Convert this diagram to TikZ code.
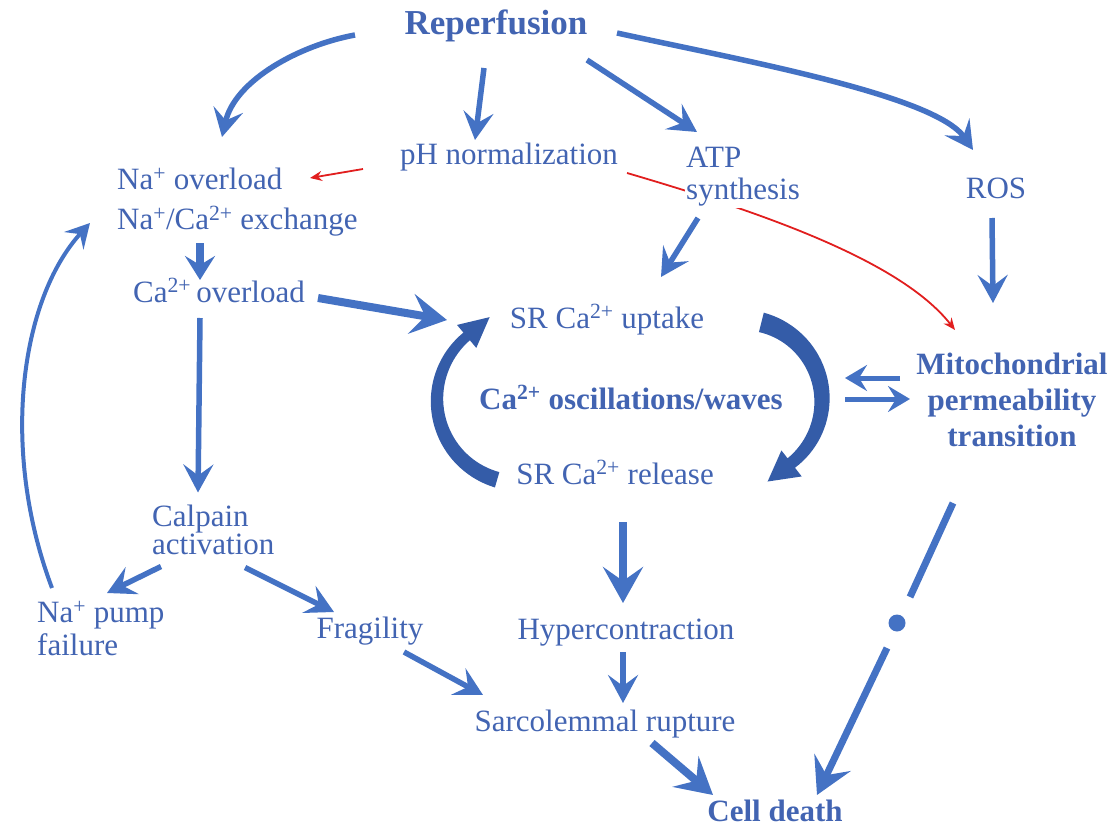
\documentclass[tikz,border=0pt]{standalone}
\usepackage{fontspec}
\setmainfont{Liberation Serif}
\usetikzlibrary{arrows.meta,calc,backgrounds}
\definecolor{txt}{RGB}{66,100,178}
\definecolor{arr}{RGB}{68,114,196}
\definecolor{cyc}{RGB}{52,92,168}
\definecolor{redl}{RGB}{225,30,30}
\tikzset{
  lbl/.style={text=txt,font=\fontsize{31}{36}\selectfont,inner sep=1pt,fill=white},
  blbl/.style={lbl,font=\fontsize{31}{36}\selectfont\bfseries},
  bar/.style={draw=arr,line width=5.5pt,-{Stealth[length=28pt,width=30pt,inset=11pt]}},
  fatbar/.style={draw=arr,line width=8pt,-{Stealth[length=36pt,width=40pt,inset=14pt]}},
  thinbar/.style={draw=arr,line width=4pt,-{Stealth[length=24pt,width=26pt,inset=9pt]}},
  xbar/.style={draw=arr,line width=5pt,-{Stealth[length=22pt,width=26pt,inset=8pt]}},
  redbar/.style={draw=redl,line width=1.8pt,-{Stealth[length=12pt,width=10pt,inset=4pt]}},
}
\begin{document}
\begin{tikzpicture}[x=1pt,y=-1pt]
\useasboundingbox (0,0) rectangle (1116,829);
% nodes
\node[blbl,font=\fontsize{35}{40}\selectfont\bfseries,anchor=base] (rep) at (496,35) {Reperfusion};
\node[lbl,anchor=base] (ph) at (509,165) {pH normalization};
\node[lbl,align=left,anchor=west,font=\fontsize{31}{32}\selectfont] (atp) at (685,177) {ATP\\synthesis};
\node[lbl,anchor=base] (ros) at (996,199) {ROS};
\node[lbl,align=left,anchor=west,font=\fontsize{31}{40}\selectfont] (na) at (116,202) {Na\textsuperscript{+} overload\\Na\textsuperscript{+}/Ca\textsuperscript{2+} exchange};
\node[lbl,anchor=base] (ca) at (219,302) {Ca\textsuperscript{2+}\,overload};
\node[lbl,anchor=base] (up) at (607,328) {SR Ca\textsuperscript{2+} uptake};
\node[blbl,anchor=base] (osc) at (631,409) {Ca\textsuperscript{2+} oscillations/waves};
\node[lbl,anchor=base] (rel) at (615,484) {SR Ca\textsuperscript{2+} release};
\node[blbl,align=center] (mpt) at (1012,400) {Mitochondrial\\permeability\\transition};
\node[lbl,align=left,anchor=west,font=\fontsize{31}{28}\selectfont] (calp) at (151,529.5) {Calpain\\activation};
\node[lbl,align=left,anchor=west,font=\fontsize{31}{33}\selectfont] (pump) at (36,629) {Na\textsuperscript{+} pump\\failure};
\node[lbl,anchor=base] (frag) at (370,638) {Fragility};
\node[lbl,anchor=base] (hyp) at (626,639) {Hypercontraction};
\node[lbl,anchor=base] (sarc) at (605,731) {Sarcolemmal rupture};
\node[blbl,anchor=base,inner sep=0pt,fill=none] (death) at (775,821) {Cell death};
\node[circle,fill=arr,inner sep=0pt,minimum size=17pt] (dot) at (897,623) {};

\begin{scope}[on background layer]
\draw[redbar] ($(ph.base)+(118,8)$) .. controls (760,212) and (900,260) .. ($(mpt)+(-57,-70)$);
\end{scope}
\draw[redbar] ($(ph.base)+(-146,4)$) -- ($(na.west)+(194,-24)$);

% blue arrows
\draw[bar] ($(rep.base)+(-141,0)$) .. controls (300,45) and (235,80) .. ($(na.west)+(106,-65)$);
\draw[bar] ($(rep.base)+(-12,33)$) -- ($(ph.base)+(-34,-25)$);
\draw[bar] ($(rep.base)+(91,25)$) -- ($(atp.west)+(12,-45)$);
\draw[bar] ($(rep.base)+(121,-2)$) .. controls (740,60) and (935,95) .. ($(ros.base)+(-23,-49)$);
\draw[bar] ($(atp.west)+(13,41)$) -- ($(up.base)+(54,-51)$);
\draw[bar] ($(ros.base)+(-4,19)$) -- ($(mpt)+(-19,-97)$);
\draw[draw=arr,line width=8pt,-{Stealth[length=24pt,width=30pt,inset=9pt]}] ($(na.west)+(84,41)$) -- ($(ca.base)+(-19,-22)$);
\draw[fatbar] ($(ca.base)+(99,-4)$) -- ($(up.base)+(-160,-8)$);
\draw[bar] ($(ca.base)+(-19,16)$) -- ($(calp.west)+(47,-37)$);
\draw[bar] ($(calp.west)+(10,37)$) -- ($(pump.west)+(71,-36)$);
\draw[bar] ($(calp.west)+(94,38)$) -- ($(frag.base)+(-36,-26)$);
\draw[thinbar] ($(pump.west)+(16,-41)$) .. controls (0,450) and (20,300) .. ($(na.west)+(-26,21)$);
\draw[fatbar] ($(rel.base)+(8,38)$) -- ($(hyp.base)+(-3,-36)$);
\draw[bar] ($(frag.base)+(34,14)$) -- ($(sarc.base)+(-122,-36)$);
\draw[bar] ($(hyp.base)+(-3,13)$) -- ($(sarc.base)+(18,-28)$);
\draw[fatbar] ($(sarc.base)+(47,12)$) -- ($(death.base)+(-62,-26)$);
\draw[draw=arr,line width=7pt] ($(mpt)+(-59,103)$) -- ($(dot)+(13,-26)$);
\draw[fatbar,line width=7pt] ($(dot)+(-10,25)$) -- ($(death.base)+(42,-26)$);
% exchange arrows
\draw[xbar] ($(mpt)+(-112,-22)$) -- ($(mpt)+(-167,-22)$);
\draw[xbar] ($(mpt)+(-167,-1)$) -- ($(mpt)+(-102,-1)$);

% cycle block arrows
\fill[cyc] plot[domain=106:230,samples=40] ({520+(91-3*(\x-106)/124)*cos(\x)},{400+(91-3*(\x-106)/124)*sin(\x)})
  -- ({520+98*cos(230)},{400+98*sin(230)})
  -- ({520+83*cos(230)+30*0.766},{400+83*sin(230)-30*0.643})
  -- ({520+68*cos(230)},{400+68*sin(230)})
  -- plot[domain=230:106,samples=40] ({520+(75+3*(\x-106)/124)*cos(\x)},{400+(75+3*(\x-106)/124)*sin(\x)})
  -- cycle;
\fill[cyc] plot[domain=-76:52,samples=40] ({742+(90-4*(\x+76)/128)*cos(\x)},{400+(90-4*(\x+76)/128)*sin(\x)})
  -- ({742+97*cos(52)},{400+97*sin(52)})
  -- ({742+80*cos(52)-30*0.788},{400+80*sin(52)+30*0.616})
  -- ({742+64*cos(52)},{400+64*sin(52)})
  -- plot[domain=52:-76,samples=40] ({742+(70+4*(\x+76)/128)*cos(\x)},{400+(70+4*(\x+76)/128)*sin(\x)})
  -- cycle;
\end{tikzpicture}
\end{document}
